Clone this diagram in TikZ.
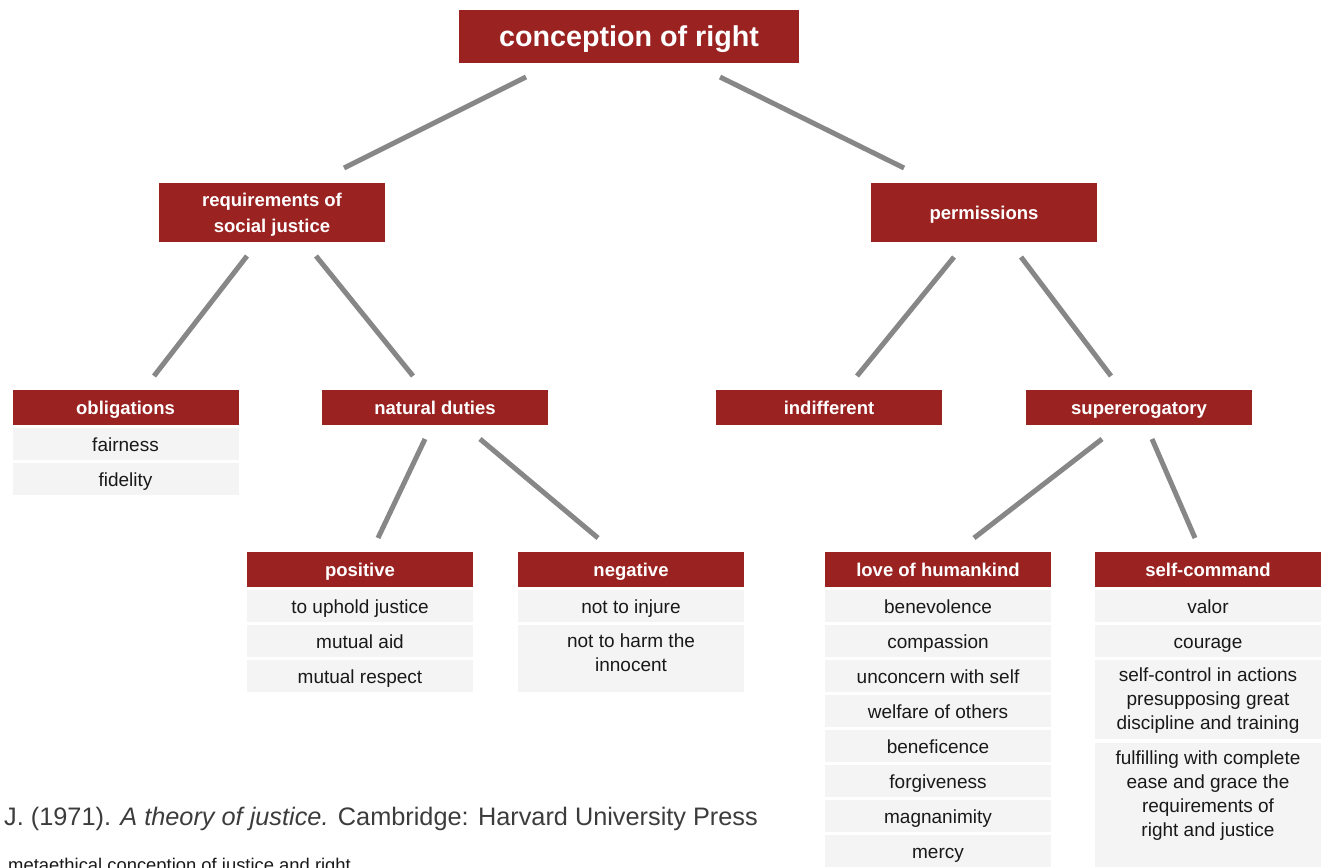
\documentclass[tikz,border=0pt]{standalone}
\usepackage{fontspec}
\setmainfont{Liberation Sans}
\definecolor{hred}{RGB}{154,35,34}
\definecolor{itemgray}{RGB}{244,244,244}
\definecolor{linegray}{RGB}{135,135,135}
\definecolor{citegray}{RGB}{60,60,60}
\begin{document}
\begin{tikzpicture}[x=1pt,y=-1pt,
  headbox/.style={fill=hred, text=white, inner sep=0pt, minimum width=226, minimum height=35,
    font=\fontsize{18.5}{26}\selectfont\bfseries, align=center, text height=16.5pt, text depth=2.5pt},
  titlebox/.style={fill=hred, text=white, inner sep=0pt, minimum width=340, minimum height=53,
    font=\fontsize{28.7}{34}\selectfont\bfseries, text height=22pt, text depth=1.6pt},
  itembox/.style={fill=itemgray, inner sep=0pt, minimum width=226, minimum height=32,
    font=\fontsize{19}{24}\selectfont, text=black!90, text height=17.5pt, text depth=2.5pt},
  itemtext/.style={inner sep=0pt, font=\fontsize{19}{24}\selectfont, text=black!90, align=center, anchor=north},
  conn/.style={draw=linegray, line width=5pt}]
\path[use as bounding box] (0,0) rectangle (1329,867);
\clip (0,0) rectangle (1329,867);

% level 0
\node[titlebox] (top) at (629,36.5) {conception of right};
% level 1
\node[headbox, minimum height=59, text height=, text depth=] (req) at (272,212.5) {\rule{0pt}{17pt}requirements of\\social justice};
\node[headbox, minimum height=59] (perm) at (984,212.5) {permissions};
% level 2
\node[headbox] (obl) at (125.5,407.5) {obligations};
\node[headbox] (nat) at (435,407.5) {natural duties};
\node[headbox] (ind) at (829,407.5) {indifferent};
\node[headbox] (sup) at (1139,407.5) {supererogatory};
% level 3
\node[headbox] (pos) at (360,569.5) {positive};
\node[headbox] (neg) at (631,569.5) {negative};
\node[headbox] (love) at (938,569.5) {love of humankind};
\node[headbox] (self) at (1208,569.5) {self-command};

% items
\node[itembox] (obl1) at (125.5,444) {fairness};
\node[itembox] (obl2) at (125.5,479) {fidelity};

\node[itembox] (pos1) at (360,606) {to uphold justice};
\node[itembox] (pos2) at (360,641) {mutual aid};
\node[itembox] (pos3) at (360,676) {mutual respect};

\node[itembox] (neg1) at (631,606) {not to injure};
\node[itembox, minimum height=67] (neg2) at (631,658.5) {};
\node[itemtext] (neg2t) at ([yshift=-9pt]neg2.north) {not to harm the\\innocent};

\node[itembox] (love1) at (938,606) {benevolence};
\node[itembox] (love2) at (938,641) {compassion};
\node[itembox] (love3) at (938,676) {unconcern with self};
\node[itembox] (love4) at (938,711) {welfare of others};
\node[itembox] (love5) at (938,746) {beneficence};
\node[itembox] (love6) at (938,781) {forgiveness};
\node[itembox] (love7) at (938,816) {magnanimity};
\node[itembox] (love8) at (938,851) {mercy};

\node[itembox] (self1) at (1208,606) {valor};
\node[itembox] (self2) at (1208,641) {courage};
\node[itembox, minimum height=79] (self3) at (1208,699.5) {};
\node[itemtext] (self3t) at ([yshift=-8pt]self3.north) {self-control in actions\\presupposing great\\discipline and training};
\node[itembox, minimum height=124] (self4) at (1208,805) {};
\node[itemtext] (self4t) at ([yshift=-8pt]self4.north) {fulfilling with complete\\ease and grace the\\requirements of\\right and justice};

% connector ends
\coordinate (top-l) at (526,77);   \coordinate (req-t) at (344,168);
\coordinate (top-r) at (720,77);   \coordinate (perm-t) at (904,168);
\coordinate (req-l) at (247,256);  \coordinate (obl-t) at (154,376);
\coordinate (req-r) at (316,256);  \coordinate (nat-t) at (413,376);
\coordinate (perm-l) at (954,257); \coordinate (ind-t) at (857,376);
\coordinate (perm-r) at (1021,257);\coordinate (sup-t) at (1111,376);
\coordinate (nat-l) at (425,439);  \coordinate (pos-t) at (378,538);
\coordinate (nat-r) at (480,439);  \coordinate (neg-t) at (598,538);
\coordinate (sup-l) at (1102,439); \coordinate (love-t) at (974,538);
\coordinate (sup-r) at (1152,439); \coordinate (self-t) at (1195,538);

\draw[conn] (top-l) -- (req-t);
\draw[conn] (top-r) -- (perm-t);
\draw[conn] (req-l) -- (obl-t);
\draw[conn] (req-r) -- (nat-t);
\draw[conn] (perm-l) -- (ind-t);
\draw[conn] (perm-r) -- (sup-t);
\draw[conn] (nat-l) -- (pos-t);
\draw[conn] (nat-r) -- (neg-t);
\draw[conn] (sup-l) -- (love-t);
\draw[conn] (sup-r) -- (self-t);

% bottom texts
\node[anchor=base west, inner sep=0pt, text=citegray, font=\fontsize{25.3}{30}\selectfont] (cite) at (4,825)
  {J. (1971). \textit{A theory of justice.} Cambridge: Harvard University Press};
\node[anchor=base west, inner sep=0pt, text=black!90, font=\fontsize{18.4}{22}\selectfont] (meta) at (8,871.5)
  {metaethical conception of justice and right};
\end{tikzpicture}
\end{document}
